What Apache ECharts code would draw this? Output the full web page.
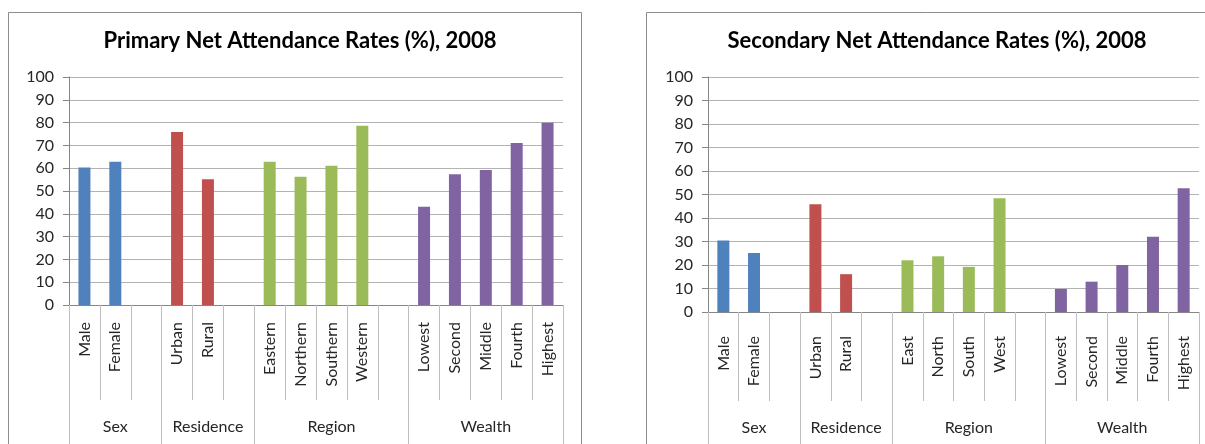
<!DOCTYPE html>
<html>
<head>
<meta charset="utf-8">
<title>Net Attendance Rates 2008</title>
<script src="https://cdn.jsdelivr.net/npm/echarts@6/dist/echarts.min.js"></script>
<style>
  html, body { margin: 0; padding: 0; background: #fff; overflow: hidden; }
  #main { width: 1205px; height: 444px; }
</style>
</head>
<body>
<div id="main"></div>
<script>
// categories, a blank slot is the gap that closes a group
const primaryCategories = ['Male', 'Female', '', 'Urban', 'Rural', '', 'Eastern', 'Northern', 'Southern', 'Western', '',
  'Lowest', 'Second', 'Middle', 'Fourth', 'Highest'];
const secondaryCategories = ['Male', 'Female', '', 'Urban', 'Rural', '', 'East', 'North', 'South', 'West', '',
  'Lowest', 'Second', 'Middle', 'Fourth', 'Highest'];
const groupNames = ['Sex', 'Residence', 'Region', 'Wealth'];

// values (%)
const primaryRates = [60.3, 62.8, null, 75.9, 55.2, null, 62.8, 56.3, 61.1, 78.6, null, 43.1, 57.4, 59.2, 71.1, 79.9];
const secondaryRates = [30.4, 25.1, null, 45.9, 16.1, null, 22.0, 23.7, 19.2, 48.4, null, 9.8, 12.9, 20.0, 32.0, 52.7];

const groupColors = ['#4F81BD', '#C0504D', '#9BBB59', '#8064A2'];
const FONT = 'Lato, "Open Sans", sans-serif';

// where each group starts, and a label slot in the middle of it
function groupLayout(cats) {
  const starts = [];
  cats.forEach((c, i) => { if (i === 0 || cats[i - 1] === '') starts.push(i); });
  const labels = cats.map(() => '');
  const slotGroup = cats.map(() => 0);
  starts.forEach((s, k) => {
    const end = k + 1 < starts.length ? starts[k + 1] : cats.length;
    labels[s + Math.floor((end - s - 1) / 2)] = groupNames[k];
    for (let i = s; i < end; i++) slotGroup[i] = k;
  });
  return { starts, labels, slotGroup };
}

function barData(values, cats) {
  const g = groupLayout(cats);
  return values.map((v, i) => v == null ? '-' : { value: v, itemStyle: { color: groupColors[g.slotGroup[i]] } });
}

function catAxis(gridIndex, cats, labelMargin, tickLen) {
  return {
    type: 'category', gridIndex, position: 'bottom', data: cats,
    axisLine: { show: true, lineStyle: { color: '#868686', width: 1 } },
    axisTick: { show: true, interval: 0, length: tickLen, lineStyle: { color: '#bfbfbf' } },
    axisLabel: { interval: 0, rotate: 90, margin: labelMargin, fontFamily: FONT, fontSize: 16, color: '#262626' },
    splitLine: { show: false }
  };
}

function groupAxis(gridIndex, cats, labelMargin) {
  const g = groupLayout(cats);
  return {
    type: 'category', gridIndex, position: 'bottom', data: g.labels,
    axisLine: { show: false },
    axisTick: { show: true, length: 170, interval: (i) => g.starts.indexOf(i) >= 0, lineStyle: { color: '#bfbfbf' } },
    axisLabel: { interval: 0, margin: labelMargin, verticalAlign: 'middle', fontFamily: FONT, fontSize: 16, color: '#262626' },
    splitLine: { show: false }
  };
}

function valueAxis(gridIndex) {
  return {
    type: 'value', gridIndex, min: 0, max: 100, interval: 10,
    axisLine: { show: true, lineStyle: { color: '#868686' } },
    axisTick: { show: true, length: 6, lineStyle: { color: '#868686' } },
    axisLabel: { margin: 15, fontFamily: FONT, fontSize: 16, color: '#262626' },
    splitLine: { show: true, lineStyle: { color: '#b3b3b3' } }
  };
}

const titleStyle = { fontFamily: FONT, fontSize: 22, fontWeight: 'bold', color: '#000' };
const boxStyle = { fill: 'none', stroke: '#8c8c8c', lineWidth: 1 };

const chart = echarts.init(document.getElementById('main'));
chart.setOption({
  animation: false,
  backgroundColor: '#fff',
  title: [
    { text: 'Primary Net Attendance Rates (%), 2008', left: 295, top: 25, textAlign: 'center', textStyle: titleStyle },
    { text: 'Secondary Net Attendance Rates (%), 2008', left: 932, top: 25, textAlign: 'center', textStyle: titleStyle }
  ],
  graphic: [
    { type: 'rect', silent: true, z: -1, shape: { x: 8.5, y: 12.5, width: 573, height: 480 }, style: boxStyle },
    { type: 'rect', silent: true, z: -1, shape: { x: 646.5, y: 12.5, width: 600, height: 480 }, style: boxStyle }
  ],
  grid: [
    { left: 69, top: 77, width: 494, height: 228, outerBoundsMode: 'none' },
    { left: 708, top: 77, width: 491, height: 235, outerBoundsMode: 'none' }
  ],
  xAxis: [
    catAxis(0, primaryCategories, 17, 95),
    groupAxis(0, primaryCategories, 122),
    catAxis(1, secondaryCategories, 24, 89),
    groupAxis(1, secondaryCategories, 116)
  ],
  yAxis: [valueAxis(0), valueAxis(1)],
  series: [
    { type: 'bar', xAxisIndex: 0, yAxisIndex: 0, barWidth: 12, data: barData(primaryRates, primaryCategories) },
    { type: 'bar', xAxisIndex: 2, yAxisIndex: 1, barWidth: 12, data: barData(secondaryRates, secondaryCategories) }
  ]
});
</script>
</body>
</html>
